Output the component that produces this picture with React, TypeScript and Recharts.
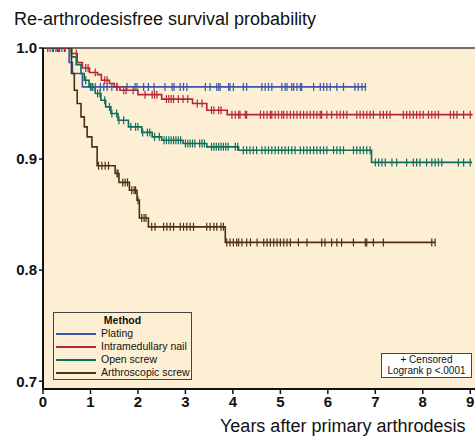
import React from 'react';
import {
  ComposedChart,
  Line,
  Scatter,
  XAxis,
  YAxis,
  CartesianGrid,
  ReferenceLine,
} from 'recharts';

// Kaplan-Meier steps: event times and survival after each step (last entry = end of follow-up)
const platingT = [0, 0.55, 0.62, 0.83, 6.81];
const platingS = [1, 0.987, 0.977, 0.965, 0.965];
const platingCens = [
  0.1, 0.27, 0.4, 0.47, 1.03, 1.1, 1.21, 1.28, 1.35, 1.45, 1.56, 1.77, 1.94, 1.98, 2.12, 2.22, 2.34,
  2.57, 2.72, 2.76, 2.89, 2.96, 3.03, 3.42, 3.52, 3.66, 3.7, 3.73, 3.91, 3.94, 4.01, 4.22, 4.29, 4.61,
  4.68, 4.75, 4.82, 5.03, 5.1, 5.14, 5.24, 5.28, 5.35, 5.42, 5.45, 5.7, 5.84, 5.91, 5.98, 6.05, 6.19,
  6.33, 6.57, 6.64, 6.72, 6.79,
];

const nailT = [0, 0.6, 0.72, 0.83, 0.98, 1.15, 1.23, 1.4, 1.5, 1.62, 2.0, 2.5, 3.15, 3.45, 3.88, 9.05];
const nailS = [1, 0.995, 0.987, 0.982, 0.978, 0.976, 0.971, 0.968, 0.965, 0.962, 0.958, 0.954, 0.95, 0.944, 0.94, 0.94];
const nailCens = [
  0.15, 0.22, 0.33, 0.45, 0.7, 0.9, 0.95, 1.1, 1.3, 1.35, 1.55, 1.7, 1.75, 1.9, 2.15, 2.3, 2.35, 2.4,
  2.6, 2.65, 2.7, 2.75, 2.85, 2.95, 3.05, 3.25, 3.35, 3.55, 3.6, 3.7, 3.75, 3.98, 4.05, 4.12, 4.15,
  4.26, 4.29, 4.58, 4.65, 4.72, 4.79, 4.82, 4.89, 4.96, 5.03, 5.07, 5.14, 5.21, 5.28, 5.35, 5.42, 5.49,
  5.56, 5.63, 5.7, 5.77, 5.84, 5.87, 5.98, 6.08, 6.19, 6.26, 6.33, 6.4, 6.61, 6.68, 6.75, 6.82, 6.89,
  6.96, 7.1, 7.17, 7.24, 7.31, 7.59, 7.66, 7.73, 7.8, 7.87, 7.94, 8.01, 8.12, 8.19, 8.26, 8.33, 8.58,
  8.65, 8.72, 8.86, 9.0,
];

const openT = [0, 0.6, 0.7, 0.8, 0.87, 0.97, 1.1, 1.22, 1.32, 1.43, 1.58, 1.8, 2.08, 2.3, 2.5, 2.95, 3.45, 4.12, 6.92, 9.04];
const openS = [1, 0.992, 0.985, 0.977, 0.971, 0.965, 0.959, 0.953, 0.947, 0.941, 0.935, 0.929, 0.924, 0.92, 0.917, 0.914, 0.911, 0.908, 0.897, 0.897];
const openCens = [
  0.2, 0.35, 0.9, 1.0, 1.05, 1.15, 1.2, 1.3, 1.4, 1.45, 1.55, 1.6, 1.7, 1.85, 1.95, 2.0, 2.1, 2.2, 2.25,
  2.35, 2.45, 2.55, 2.6, 2.65, 2.7, 2.75, 2.8, 2.85, 2.9, 3.0, 3.05, 3.1, 3.15, 3.2, 3.3, 3.35, 3.4,
  3.55, 3.6, 3.65, 3.7, 3.75, 3.8, 3.85, 3.9, 4.05, 4.1, 4.22, 4.29, 4.36, 4.43, 4.5, 4.61, 4.68, 4.75,
  4.82, 4.89, 4.96, 5.03, 5.1, 5.17, 5.24, 5.31, 5.42, 5.49, 5.56, 5.63, 5.7, 5.77, 5.84, 5.91, 5.98,
  6.12, 6.19, 6.26, 6.33, 6.54, 6.61, 6.68, 6.75, 6.82, 6.89, 7.0, 7.07, 7.14, 7.21, 7.35, 7.45, 7.66,
  7.8, 7.87, 7.94, 8.08, 8.19, 8.26, 8.33, 8.4, 8.75, 8.86, 9.0,
];

const arthroT = [0, 0.6, 0.66, 0.72, 0.8, 0.87, 0.93, 1.03, 1.14, 1.52, 1.6, 1.82, 1.98, 2.03, 2.22, 3.84, 8.26];
const arthroS = [1, 0.977, 0.962, 0.95, 0.938, 0.929, 0.92, 0.911, 0.894, 0.887, 0.879, 0.872, 0.863, 0.847, 0.839, 0.825, 0.825];
const arthroCens = [
  0.3, 1.17, 1.24, 1.31, 1.38, 1.56, 1.58, 1.68, 1.73, 1.78, 1.87, 1.92, 1.95, 2.0, 2.08, 2.13, 2.17,
  2.29, 2.36, 2.54, 2.61, 2.68, 2.75, 2.89, 2.96, 3.03, 3.1, 3.17, 3.45, 3.52, 3.6, 3.66, 3.75, 3.8,
  3.87, 3.94, 4.01, 4.08, 4.12, 4.19, 4.29, 4.37, 4.51, 4.65, 4.72, 4.79, 4.86, 4.93, 5.0, 5.07, 5.14,
  5.21, 5.38, 5.56, 5.87, 5.94, 6.08, 6.19, 6.29, 6.54, 6.79, 6.82, 6.96, 7.17, 8.19, 8.26,
];

const xTicks = [0, 1, 2, 3, 4, 5, 6, 7, 8, 9];
const yTicks = [0.7, 0.8, 0.9, 1.0];

const FONT = '"Liberation Sans", Arial, Helvetica, sans-serif';

const series = [
  { name: 'Plating', color: '#3a56a8', t: platingT, s: platingS, cens: platingCens },
  { name: 'Intramedullary nail', color: '#b3263a', t: nailT, s: nailS, cens: nailCens },
  { name: 'Open screw', color: '#0e6e5c', t: openT, s: openS, cens: openCens },
  { name: 'Arthroscopic screw', color: '#4e2f16', t: arthroT, s: arthroS, cens: arthroCens },
];

function toSteps(t: number[], s: number[]) {
  return t.map((x, i) => ({ t: x, s: s[i] }));
}

// place each censor mark on the step level in force at that time
function toCensors(c: number[], t: number[], s: number[]) {
  return c.map((x) => {
    let v = s[0];
    for (let i = 0; i < t.length; i++) if (t[i] <= x) v = s[i];
    return { t: x, s: v };
  });
}

const CensorMark = (color: string) => (props: any) => {
  const { cx, cy } = props;
  if (cx == null || cy == null) return null;
  return <line x1={cx} x2={cx} y1={cy - 4} y2={cy + 4} stroke={color} strokeWidth={1.2} />;
};

export default function App() {
  return (
    <div
      style={{
        position: 'absolute',
        left: 0,
        top: 0,
        width: 475,
        height: 436,
        overflow: 'hidden',
        background: '#fff',
        fontFamily: FONT,
      }}
    >
      <div
        style={{
          position: 'absolute',
          left: 14,
          top: 9,
          fontSize: 18,
          color: '#111',
          whiteSpace: 'nowrap',
        }}
      >
        Re-arthrodesisfree survival probability
      </div>

      <ComposedChart width={475} height={436} margin={{ top: 48, right: 0, bottom: 0, left: 0 }}>
        <CartesianGrid stroke="transparent" fill="#fdefd3" fillOpacity={1} />
        <XAxis
          type="number"
          dataKey="t"
          domain={[0, 9.1]}
          ticks={xTicks}
          allowDataOverflow
          height={47}
          axisLine={{ stroke: '#111', strokeWidth: 2 }}
          tickLine={{ stroke: '#111', strokeWidth: 1.5 }}
          tickSize={5}
          tick={{ fontSize: 15, fill: '#111', fontWeight: 'bold', fontFamily: FONT }}
          tickMargin={2}
        />
        <YAxis
          type="number"
          dataKey="s"
          domain={[0.693, 1.0]}
          ticks={yTicks}
          allowDataOverflow
          width={43}
          axisLine={{ stroke: '#111', strokeWidth: 2 }}
          tickLine={{ stroke: '#111', strokeWidth: 1.5 }}
          tickSize={4}
          tickFormatter={(v: number) => v.toFixed(1)}
          tick={{ fontSize: 15, fill: '#111', fontWeight: 'bold', fontFamily: FONT }}
        />
        <ReferenceLine y={1} stroke="#444" strokeWidth={1.5} />
        {series.map((d) => (
          <Line
            key={d.name}
            data={toSteps(d.t, d.s)}
            dataKey="s"
            type="stepAfter"
            stroke={d.color}
            strokeWidth={1.6}
            dot={false}
            isAnimationActive={false}
          />
        ))}
        {series.map((d) => (
          <Scatter
            key={d.name + '-c'}
            data={toCensors(d.cens, d.t, d.s)}
            dataKey="s"
            shape={CensorMark(d.color)}
            isAnimationActive={false}
          />
        ))}
      </ComposedChart>

      <div
        style={{
          position: 'absolute',
          left: 53,
          top: 312,
          width: 139,
          height: 68,
          border: '1px solid #444',
          boxSizing: 'border-box',
          fontSize: 10.5,
          color: '#111',
          lineHeight: '13px',
        }}
      >
        <div style={{ textAlign: 'center', fontWeight: 'bold', marginTop: 1 }}>Method</div>
        {series.map((d) => (
          <div key={d.name} style={{ display: 'flex', alignItems: 'center', whiteSpace: 'nowrap' }}>
            <span
              style={{ display: 'inline-block', width: 40, height: 2, background: d.color, marginLeft: 2, marginRight: 5 }}
            />
            {d.name}
          </div>
        ))}
      </div>

      <div
        style={{
          position: 'absolute',
          left: 381,
          top: 353,
          width: 91,
          height: 25,
          border: '1px solid #444',
          boxSizing: 'border-box',
          background: '#fff',
          fontSize: 10,
          color: '#111',
          lineHeight: '11px',
          textAlign: 'center',
          whiteSpace: 'nowrap',
        }}
      >
        + Censored
        <br />
        Logrank p &lt;.0001
      </div>

      <div
        style={{
          position: 'absolute',
          left: 220,
          top: 416,
          fontSize: 18,
          color: '#111',
          whiteSpace: 'nowrap',
        }}
      >
        Years after primary arthrodesis
      </div>
    </div>
  );
}
